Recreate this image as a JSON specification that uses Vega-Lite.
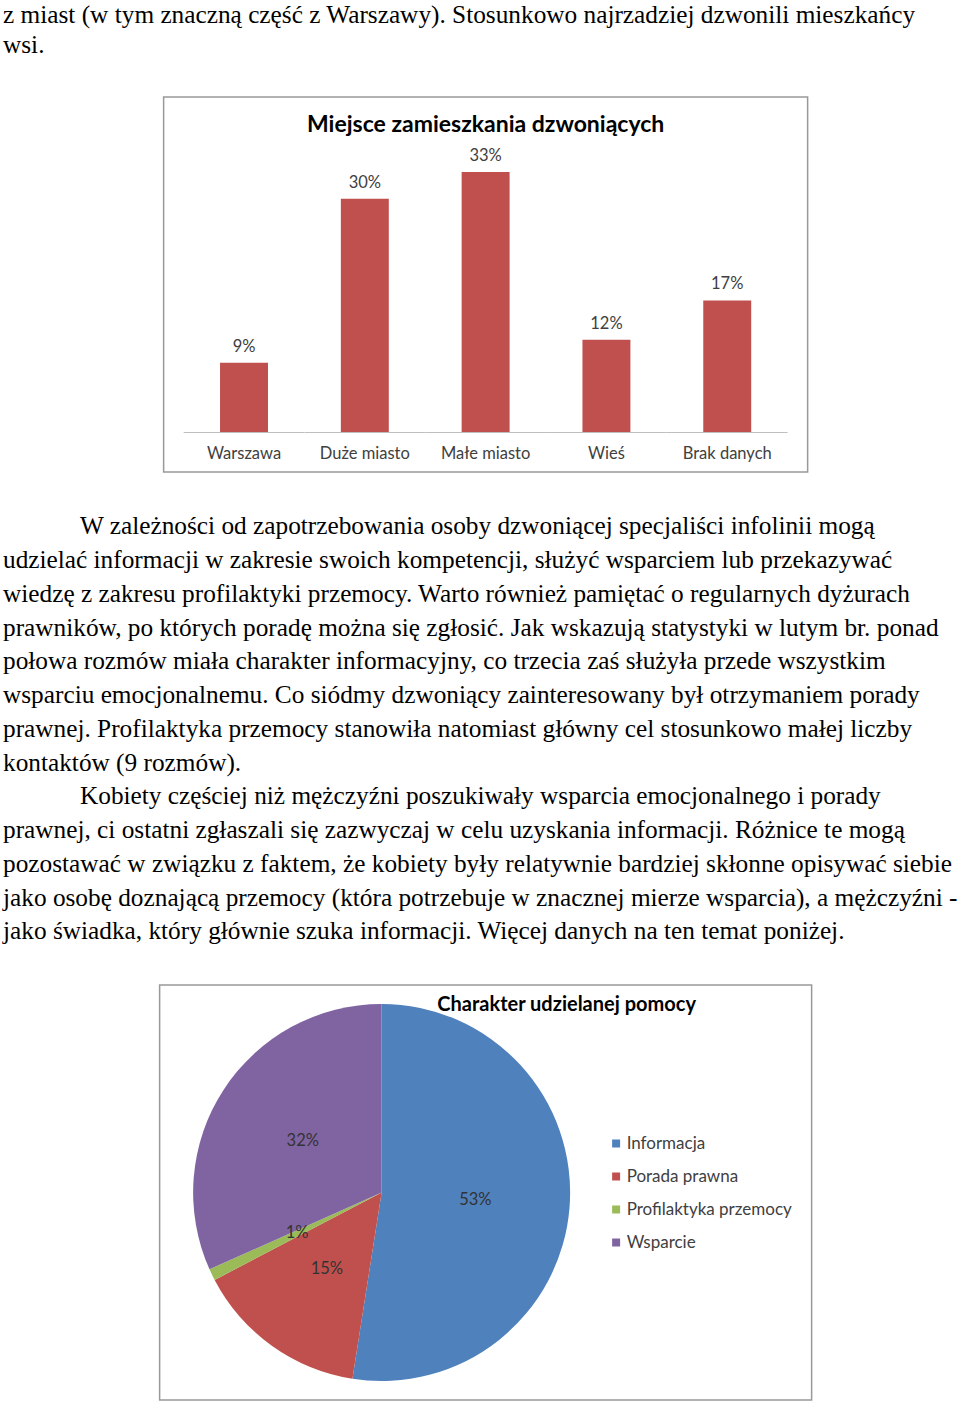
{
  "$schema": "https://vega.github.io/schema/vega-lite/v6.json",
  "padding": 0,
  "spacing": 0,
  "center": true,
  "background": "white",
  "config": {"view": {"stroke": null}},
  "resolve": {"scale": {"color": "independent"}, "legend": {"color": "independent"}},
  "datasets": {
    "top": [
      {"line": 1, "text": "z miast (w tym znaczną część z Warszawy). Stosunkowo najrzadziej dzwonili mieszkańcy"},
      {"line": 2, "text": "wsi."}
    ],
    "body": [
      {"line": 1, "para": 1, "indent": true, "text": "W zależności od zapotrzebowania osoby dzwoniącej specjaliści infolinii mogą"},
      {"line": 2, "para": 1, "indent": false, "text": "udzielać informacji w zakresie swoich kompetencji, służyć wsparciem lub przekazywać"},
      {"line": 3, "para": 1, "indent": false, "text": "wiedzę z zakresu profilaktyki przemocy. Warto również pamiętać o regularnych dyżurach"},
      {"line": 4, "para": 1, "indent": false, "text": "prawników, po których poradę można się zgłosić. Jak wskazują statystyki w lutym br. ponad"},
      {"line": 5, "para": 1, "indent": false, "text": "połowa rozmów miała charakter informacyjny, co trzecia zaś służyła przede wszystkim"},
      {"line": 6, "para": 1, "indent": false, "text": "wsparciu emocjonalnemu. Co siódmy dzwoniący zainteresowany był otrzymaniem porady"},
      {"line": 7, "para": 1, "indent": false, "text": "prawnej. Profilaktyka przemocy stanowiła natomiast główny cel stosunkowo małej liczby"},
      {"line": 8, "para": 1, "indent": false, "text": "kontaktów (9 rozmów)."},
      {"line": 9, "para": 2, "indent": true, "text": "Kobiety częściej niż mężczyźni poszukiwały wsparcia emocjonalnego i porady"},
      {"line": 10, "para": 2, "indent": false, "text": "prawnej, ci ostatni zgłaszali się zazwyczaj w celu uzyskania informacji. Różnice te mogą"},
      {"line": 11, "para": 2, "indent": false, "text": "pozostawać w związku z faktem, że kobiety były relatywnie bardziej skłonne opisywać siebie"},
      {"line": 12, "para": 2, "indent": false, "text": "jako osobę doznającą przemocy (która potrzebuje w znacznej mierze wsparcia), a mężczyźni -"},
      {"line": 13, "para": 2, "indent": false, "text": "jako świadka, który głównie szuka informacji. Więcej danych na ten temat poniżej."}
    ],
    "place": [
      {"place": "Warszawa", "share": 8.8, "label": "9%"},
      {"place": "Duże miasto", "share": 29.6, "label": "30%"},
      {"place": "Małe miasto", "share": 33.0, "label": "33%"},
      {"place": "Wieś", "share": 11.7, "label": "12%"},
      {"place": "Brak danych", "share": 16.7, "label": "17%"}
    ],
    "help": [
      {"type": "Informacja", "share": 53, "label": "53%"},
      {"type": "Porada prawna", "share": 15, "label": "15%"},
      {"type": "Profilaktyka przemocy", "share": 1, "label": "1%"},
      {"type": "Wsparcie", "share": 32, "label": "32%"}
    ]
  },
  "vconcat": [
    {
      "width": 972,
      "height": 96,
      "data": {"name": "top"},
      "mark": {"type": "text", "align": "left", "baseline": "alphabetic", "font": "Liberation Serif", "fontSize": 25.3, "color": "#000000"},
      "encoding": {
        "x": {"datum": 0, "type": "quantitative", "scale": {"domain": [-3, 969], "nice": false, "zero": false}, "axis": null},
        "y": {"field": "line", "type": "quantitative", "scale": {"domain": [0.2566, 3.4145], "reverse": true, "nice": false, "zero": false}, "axis": null},
        "text": {"field": "text"}
      }
    },
    {
      "width": 644,
      "height": 375,
      "view": {"stroke": "#999999", "strokeWidth": 1.5},
      "data": {"name": "place"},
      "layer": [
        {
          "mark": {"type": "bar", "color": "#C0504D"},
          "encoding": {
            "x": {"field": "place", "type": "nominal", "sort": null,
              "scale": {"paddingInner": 0.603, "paddingOuter": 0.467},
              "axis": {"title": null, "orient": "bottom", "offset": -40, "domain": false, "ticks": false, "tickSize": 0, "labelPadding": 26, "labelBaseline": "alphabetic", "labelFont": "Lato", "labelFontSize": 16.5, "labelColor": "#404040", "labelAngle": 0}},
            "y": {"field": "share", "type": "quantitative", "scale": {"domain": [-5.077, 42.52], "nice": false, "zero": false}, "axis": null},
            "y2": {"datum": 0}
          }
        },
        {
          "mark": {"type": "bar", "color": "#BFBFBF", "width": {"band": 2.5167}},
          "encoding": {
            "x": {"field": "place", "type": "nominal", "sort": null},
            "y": {"datum": 0, "type": "quantitative"},
            "y2": {"datum": -0.127}
          }
        },
        {
          "mark": {"type": "text", "baseline": "alphabetic", "dy": -11, "font": "Lato", "fontSize": 16.5, "color": "#404040"},
          "encoding": {
            "x": {"field": "place", "type": "nominal", "sort": null},
            "y": {"field": "share", "type": "quantitative"},
            "text": {"field": "label"}
          }
        },
        {
          "data": {"values": [{"title": "Miejsce zamieszkania dzwoniących"}]},
          "mark": {"type": "text", "baseline": "alphabetic", "font": "Lato", "fontWeight": "bold", "fontSize": 23, "color": "#000000"},
          "encoding": {
            "y": {"datum": 38.14, "type": "quantitative"},
            "text": {"field": "title"}
          }
        }
      ]
    },
    {
      "width": 972,
      "height": 511,
      "data": {"name": "body"},
      "encoding": {
        "y": {"field": "line", "type": "quantitative", "scale": {"domain": [-0.816, 14.325], "reverse": true, "nice": false, "zero": false}, "axis": null},
        "text": {"field": "text"}
      },
      "layer": [
        {
          "transform": [{"filter": "!datum.indent"}],
          "mark": {"type": "text", "align": "left", "baseline": "alphabetic", "font": "Liberation Serif", "fontSize": 25.3, "color": "#000000"},
          "encoding": {
            "x": {"datum": 0, "type": "quantitative", "scale": {"domain": [-3, 969], "nice": false, "zero": false}, "axis": null}
          }
        },
        {
          "transform": [{"filter": "datum.indent"}],
          "mark": {"type": "text", "align": "left", "baseline": "alphabetic", "font": "Liberation Serif", "fontSize": 25.3, "color": "#000000"},
          "encoding": {
            "x": {"datum": 77, "type": "quantitative"}
          }
        }
      ]
    },
    {
      "width": 652,
      "height": 415,
      "view": {"stroke": "#999999", "strokeWidth": 1.5},
      "data": {"name": "help"},
      "layer": [
        {
          "mark": {"type": "arc", "radius": 188.5},
          "encoding": {
            "x": {"datum": 0.3405, "type": "quantitative", "scale": {"domain": [0, 1], "nice": false, "zero": false}, "axis": null},
            "theta": {"field": "share", "type": "quantitative", "stack": true},
            "order": {"field": "type", "type": "nominal"},
            "color": {"field": "type", "type": "nominal",
              "scale": {"domain": ["Informacja", "Porada prawna", "Profilaktyka przemocy", "Wsparcie"], "range": ["#4F81BD", "#C0504D", "#9BBB59", "#8064A2"]},
              "legend": {"orient": "none", "legendX": 448, "legendY": 150, "title": null, "symbolType": "square", "symbolSize": 64, "symbolStrokeWidth": 0, "labelFont": "Lato", "labelFontSize": 17, "labelColor": "#404040", "labelOffset": 2, "labelLimit": 400, "rowPadding": 15, "padding": 0}}
          }
        },
        {
          "mark": {"type": "text", "radius": 94, "font": "Lato", "fontSize": 16.5, "color": "#333333"},
          "encoding": {
            "x": {"datum": 0.3405, "type": "quantitative"},
            "theta": {"field": "share", "type": "quantitative", "stack": true},
            "order": {"field": "type", "type": "nominal"},
            "text": {"field": "label"}
          }
        },
        {
          "data": {"values": [{"title": "Charakter udzielanej pomocy"}]},
          "mark": {"type": "text", "dx": 81, "dy": -181.5, "baseline": "alphabetic", "font": "Lato", "fontWeight": "bold", "fontSize": 20, "color": "#000000"},
          "encoding": {
            "text": {"field": "title"}
          }
        }
      ]
    }
  ]
}
